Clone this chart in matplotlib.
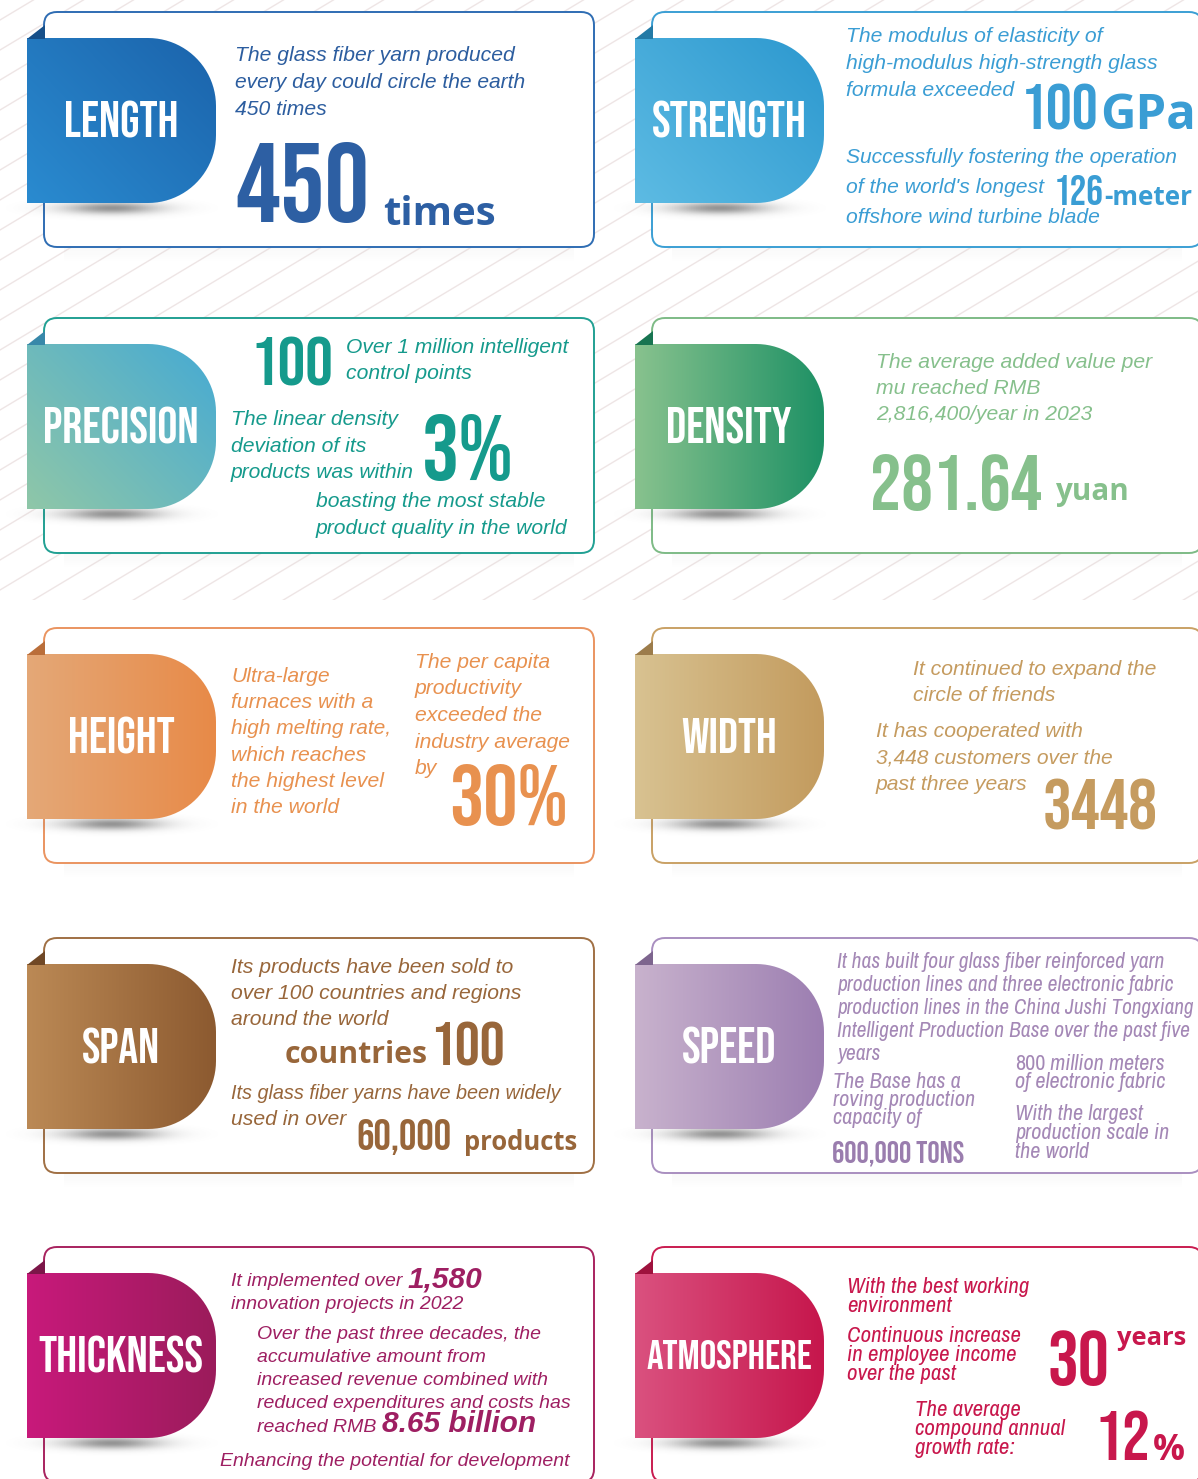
import numpy as np
import matplotlib
matplotlib.use('Agg')
import matplotlib.pyplot as plt
from matplotlib import font_manager as fm
from matplotlib.colors import to_rgb
from matplotlib.patches import FancyBboxPatch, PathPatch, Polygon, Rectangle
from matplotlib.path import Path

W, H = 1198, 1479

# ---- content ----
titles = ['LENGTH', 'STRENGTH', 'PRECISION', 'DENSITY', 'HEIGHT',
          'WIDTH', 'SPAN', 'SPEED', 'THICKNESS', 'ATMOSPHERE']
title_widths = [110, 149, 150, 121, 103, 92, 75, 91, 159, 159]
tab_colors = [('#2a8bd0', '#1b63ab'), ('#5dbbe3', '#2c98cf'),
              ('#8fc7a8', '#46aad3'), ('#88c28e', '#1e9165'),
              ('#e4a877', '#e88a48'), ('#d8c291', '#c39b5e'),
              ('#bb8955', '#8c5a30'), ('#c8b2cd', '#9c7eb1'),
              ('#c8197b', '#9b1c5b'), ('#da517f', '#c6164c')]
tab_angles = [40, 40, 40, 0, 0, 0, 0, 0, 0, 0]
text_colors = ['#2c5d9f', '#3a9dd4', '#159a8c', '#86c08c', '#e8914f',
               '#c59b5f', '#98663a', '#a488b6', '#9e1f62', '#c8174c']
border_colors = ['#2f6db3', '#3b9fd4', '#21a093', '#7ebb86', '#ea9460',
                 '#c9a165', '#a07044', '#a98fc0', '#a8235f', '#c91c50']

length_lines = ['The glass fiber yarn produced', 'every day could circle the earth', '450 times']
length_num, length_unit = '450', 'times'

strength_lines = ['The modulus of elasticity of', 'high-modulus high-strength glass', 'formula exceeded']
strength_num, strength_unit = '100', 'GPa'
strength_lines2 = ['Successfully fostering the operation', "of the world's longest",
                   'offshore wind turbine blade']
strength_num2, strength_unit2 = '126', '-meter'

precision_num = '100'
precision_lines = ['Over 1 million intelligent', 'control points']
precision_lines2 = ['The linear density', 'deviation of its', 'products was within']
precision_num2 = '3%'
precision_lines3 = ['boasting the most stable', 'product quality in the world']

density_lines = ['The average added value per', 'mu reached RMB', '2,816,400/year in 2023']
density_num, density_unit = '281.64', 'yuan'

height_lines = ['Ultra-large', 'furnaces with a', 'high melting rate,', 'which reaches',
                'the highest level', 'in the world']
height_lines2 = ['The per capita', 'productivity', 'exceeded the', 'industry average', 'by']
height_num = '30%'

width_lines = ['It continued to expand the', 'circle of friends']
width_lines2 = ['It has cooperated with', '3,448 customers over the', 'past three years']
width_num = '3448'

span_lines = ['Its products have been sold to', 'over 100 countries and regions', 'around the world']
span_unit, span_num = 'countries', '100'
span_lines2 = ['Its glass fiber yarns have been widely', 'used in over']
span_num2, span_unit2 = '60,000', 'products'

speed_lines = ['It has built four glass fiber reinforced yarn',
               'production lines and three electronic fabric',
               'production lines in the China Jushi Tongxiang',
               'Intelligent Production Base over the past five', 'years']
speed_lines2 = ['The Base has a', 'roving production', 'capacity of']
speed_num = '600,000 TONS'
speed_num2, speed_lines3 = '800', [' million meters', 'of electronic fabric']
speed_lines4 = ['With the largest', 'production scale in', 'the world']

thick_pre, thick_num = 'It implemented over ', '1,580'
thick_lines = ['innovation projects in 2022']
thick_lines2 = ['Over the past three decades, the', 'accumulative amount from',
                'increased revenue combined with', 'reduced expenditures and costs has']
thick_pre2, thick_num2 = 'reached RMB ', '8.65 billion'
thick_last = 'Enhancing the potential for development'

atmos_lines = ['With the best working', 'environment']
atmos_lines2 = ['Continuous increase', 'in employee income', 'over the past']
atmos_num, atmos_unit = '30', 'years'
atmos_lines3 = ['The average', 'compound annual', 'growth rate:']
atmos_num2, atmos_pct = '12', '%'

# ---- fonts ----
names = {f.name for f in fm.fontManager.ttflist}
COND = 'Bebas Neue' if 'Bebas Neue' in names else 'DejaVu Sans'
NARROW = 'Archivo Narrow' if 'Archivo Narrow' in names else 'Liberation Sans'
BODY = 'Liberation Sans'
UNIT = 'Open Sans' if 'Open Sans' in names else 'DejaVu Sans'

fig = plt.figure(figsize=(W / 100, H / 100), dpi=100)
ax = fig.add_axes([0, 0, 1, 1])
ax.set_xlim(0, W)
ax.set_ylim(H, 0)
ax.axis('off')
renderer = fig.canvas.get_renderer()

# background diagonal lines
clip = Rectangle((0, 0), W, 600, transform=ax.transData)
xs = np.array([0, W])
for c in np.arange(-100, 1400, 30):
    ln, = ax.plot(xs, c - 0.6 * xs, color='#eee5e5', lw=1.0, zorder=0)
    ln.set_clip_path(clip)


def gradient(x0, y0, w, h, c1, c2, angle, clip_patch, z):
    n = 120
    xx, yy = np.meshgrid(np.linspace(0, 1, n), np.linspace(0, 1, n))
    th = np.deg2rad(angle)
    t = xx * np.cos(th) + (1 - yy) * np.sin(th)
    t = (t - t.min()) / (t.max() - t.min())
    a, b = np.array(to_rgb(c1)), np.array(to_rgb(c2))
    img = a + (b - a) * t[..., None]
    im = ax.imshow(img, extent=(x0, x0 + w, y0 + h, y0), origin='upper',
                   zorder=z, interpolation='bilinear', aspect='auto')
    im.set_clip_path(clip_patch)


def soft_shadow(xc, yc, sx, sy, alpha, z):
    x0, x1, y0, y1 = xc - 2.5 * sx, xc + 2.5 * sx, yc - 2.5 * sy, yc + 2.5 * sy
    xx, yy = np.meshgrid(np.linspace(-2.5, 2.5, 100), np.linspace(-2.5, 2.5, 60))
    img = np.zeros((60, 100, 4))
    img[..., :3] = 0.3
    img[..., 3] = alpha * np.exp(-(xx ** 2 + yy ** 2))
    ax.imshow(img, extent=(x0, x1, y1, y0), origin='upper', zorder=z, aspect='auto')


def tab_path(x0, y0, w, h, r):
    v = [(x0, y0), (x0 + w - r, y0)]
    cx, cy = x0 + w - r, y0 + r
    v += [(cx + r * np.cos(a), cy + r * np.sin(a)) for a in np.linspace(-np.pi / 2, 0, 24)]
    cx, cy = x0 + w - r, y0 + h - r
    v += [(cx + r * np.cos(a), cy + r * np.sin(a)) for a in np.linspace(0, np.pi / 2, 24)]
    v += [(x0, y0 + h), (x0, y0)]
    return Path(v)


def fit(x, y, s, color, cap, width, family=None, weight='normal', style='normal',
        ha='left', center_y=False):
    fam = family or COND
    size = cap * (1.03 if fam == COND else 1.0)
    t = ax.text(x, y, s, color=color, fontsize=size, family=fam,
                fontweight=weight, fontstyle=style, ha=ha, va='baseline', zorder=8)
    bb = t.get_window_extent(renderer)
    if bb.width > width:
        size = size * width / bb.width
        t.set_fontsize(size)
    if center_y:
        t.set_y(y + size * 0.7 / 0.72 / 2)
    return t


def lines(x, y0, dy, items, color, size=15.2, family=None, style='italic',
          weight='normal', maxw=None):
    for i, s in enumerate(items):
        t = ax.text(x, y0 + i * dy, s, color=color, fontsize=size, family=family or BODY,
                    fontstyle=style, fontweight=weight, ha='left', va='baseline', zorder=8)
        if maxw:
            bb = t.get_window_extent(renderer)
            if bb.width > maxw:
                t.set_fontsize(size * maxw / bb.width)


# ---- cards ----
col_x = [44, 652]
row_y = [12, 318, 628, 938, 1247]
box_w, box_h = 550, 235
for i, title in enumerate(titles):
    bx, by = col_x[i % 2], row_y[i // 2]
    ec = border_colors[i]
    for k in range(8):
        ax.add_patch(Rectangle((bx + 20, by + box_h - 2 + k * 2), box_w - 40, 2,
                               color='#b8b8b8', alpha=0.09 * (1 - k / 8), lw=0, zorder=1))
    ax.add_patch(FancyBboxPatch((bx, by), box_w, box_h,
                                boxstyle='round,pad=0,rounding_size=13',
                                fc='white', ec=ec, lw=1.4, zorder=2))
    tx, ty, tw, th = bx - 17, by + 26, 189, 165
    soft_shadow(tx + 85, ty + th + 5, 48, 6, 0.6, 3)
    patch = PathPatch(tab_path(tx, ty, tw, th, 68), fc='none', ec='none', zorder=4)
    ax.add_patch(patch)
    c1, c2 = tab_colors[i]
    gradient(tx, ty, tw, th, c1, c2, tab_angles[i], patch, 4)
    dark = tuple(np.array(to_rgb(c2)) * 0.8)
    ax.add_patch(Polygon([(tx, ty + 0.5), (bx + 0.5, ty + 0.5), (bx + 0.5, ty - 13)],
                         closed=True, fc=dark, ec='none', zorder=5))
    fit(tx + 94, ty + 82, title, 'white', 38, title_widths[i] * 1.04,
        ha='center', center_y=True)

# LENGTH
c = text_colors[0]
lines(235, 61, 27, length_lines, c, maxw=292)
fit(235, 222, length_num, '#2d5fa3', 80, 134)
fit(383, 225, length_unit, '#2d5fa3', 30, 113, family=UNIT, weight='bold')

# STRENGTH
c = text_colors[1]
lines(846, 42, 27, strength_lines, c, maxw=312)
fit(1021, 129, strength_num, c, 52, 78)
fit(1100, 129, strength_unit, c, 50, 96, family=UNIT, weight='bold')
lines(846, 163, 30, strength_lines2, c, maxw=333)
fit(1054, 205, strength_num2, c, 33, 50)
fit(1104, 205, strength_unit2, c, 22, 88, family=UNIT, weight='bold')

# PRECISION
c = text_colors[2]
fit(250, 386, precision_num, c, 53, 83)
lines(346, 353, 26, precision_lines, c, maxw=224)
lines(231, 425, 26.5, precision_lines2, c, maxw=184)
fit(422, 480, precision_num2, c, 65, 95)
lines(316, 507, 27, precision_lines3, c, maxw=252)

# DENSITY
c = text_colors[3]
lines(876, 368, 26, density_lines, c, maxw=277)
fit(870, 510, density_num, c, 58, 172)
fit(1055, 500, density_unit, c, 24, 74, family=UNIT, weight='bold')

# HEIGHT
c = text_colors[4]
lines(231, 682, 26.2, height_lines, c, maxw=160)
lines(415, 668, 26.5, height_lines2, c, maxw=156)
fit(449, 825, height_num, c, 60, 119)

# WIDTH
c = text_colors[5]
lines(913, 675, 26, width_lines, c, maxw=243)
lines(876, 737, 26.5, width_lines2, c, maxw=238)
fit(1043, 830, width_num, c, 52, 115)

# SPAN
c = text_colors[6]
lines(231, 973, 26, span_lines, c, maxw=290)
fit(285, 1063, span_unit, c, 24, 143, family=UNIT, weight='bold')
fit(430, 1066, span_num, c, 48, 75)
lines(231, 1099, 26, span_lines2, c, maxw=331)
fit(356, 1150, span_num2, c, 32, 95)
fit(464, 1150, span_unit2, c, 20, 113, family=UNIT, weight='bold')

# SPEED
c = text_colors[7]
lines(837, 968, 23, speed_lines, c, size=15.5, family=NARROW, maxw=358)
lines(833, 1088, 18, speed_lines2, c, size=16, family=NARROW, maxw=150)
fit(832, 1163, speed_num, '#9a7dae', 23, 133)
t = ax.text(1015, 1070, speed_num2, color=c, fontsize=16, family=NARROW,
            fontweight='bold', va='baseline', zorder=8)
bb = t.get_window_extent(renderer)
ax.text(1015 + bb.width, 1070, speed_lines3[0], color=c, fontsize=16, family=NARROW,
        fontstyle='italic', va='baseline', zorder=8)
lines(1015, 1088, 18, speed_lines3[1:], c, size=16, family=NARROW, maxw=160)
lines(1015, 1120, 19, speed_lines4, c, size=16, family=NARROW, maxw=163)

# THICKNESS
c = text_colors[8]
t = ax.text(231, 1286, thick_pre, color=c, fontsize=14, family=BODY,
            fontstyle='italic', va='baseline', zorder=8)
bb = t.get_window_extent(renderer)
ax.text(231 + bb.width, 1287, thick_num, color=c, fontsize=21.5, family=BODY,
        fontstyle='italic', fontweight='bold', va='baseline', zorder=8)
lines(231, 1309, 23, thick_lines, c, size=14)
lines(257, 1339, 23, thick_lines2, c, size=14, maxw=315)
t = ax.text(257, 1432, thick_pre2, color=c, fontsize=14, family=BODY,
            fontstyle='italic', va='baseline', zorder=8)
bb = t.get_window_extent(renderer)
ax.text(257 + bb.width, 1432, thick_num2, color=c, fontsize=21.5, family=BODY,
        fontstyle='italic', fontweight='bold', va='baseline', zorder=8)
lines(220, 1466, 23, [thick_last], c, size=14, maxw=352)

# ATMOSPHERE
c = text_colors[9]
lines(847, 1293, 18.5, atmos_lines, c, size=16.5, family=NARROW, maxw=203)
lines(847, 1342, 19, atmos_lines2, c, size=16.5, family=NARROW, maxw=192)
fit(1048, 1385, atmos_num, c, 55, 62)
fit(1117, 1345, atmos_unit, c, 20, 69, family=UNIT, weight='bold')
lines(915, 1416, 19, atmos_lines3, c, size=16.5, family=NARROW, maxw=168)
fit(1094, 1460, atmos_num2, c, 55, 56)
fit(1153, 1460, atmos_pct, c, 28, 32, family=UNIT, weight='bold')

ax.set_xlim(0, W)
ax.set_ylim(H, 0)
fig.savefig('out.png', dpi=100)
